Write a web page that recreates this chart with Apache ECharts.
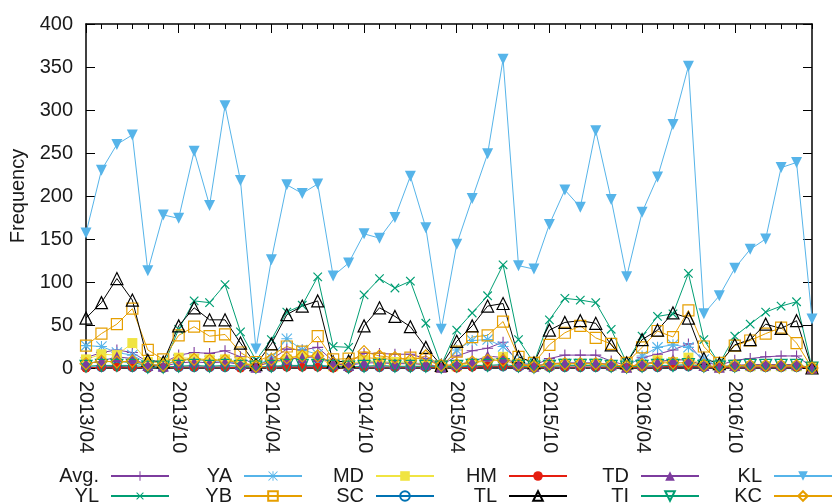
<!DOCTYPE html>
<html>
<head>
<meta charset="utf-8">
<script src="https://cdn.jsdelivr.net/npm/echarts@6/dist/echarts.min.js"></script>
<style>
html,body{margin:0;padding:0;background:#fff;}
#chart{width:835px;height:504px;}
</style>
</head>
<body>
<div id="chart"></div>
<script>
var months = ["2013/04","2013/05","2013/06","2013/07","2013/08","2013/09","2013/10","2013/11","2013/12","2014/01","2014/02","2014/03",
"2014/04","2014/05","2014/06","2014/07","2014/08","2014/09","2014/10","2014/11","2014/12","2015/01","2015/02","2015/03",
"2015/04","2015/05","2015/06","2015/07","2015/08","2015/09","2015/10","2015/11","2015/12","2016/01","2016/02","2016/03",
"2016/04","2016/05","2016/06","2016/07","2016/08","2016/09","2016/10","2016/11","2016/12","2017/01","2017/02","2017/03"];

var seriesNames = ["Avg.","YL","YA","YB","MD","SC","HM","TL","TD","TI","KL","KC"];

var avg = [12,18,21,18,7,6,15,18,17,20,13,3, 10,22,21,24,8,7,17,17,16,16,11,3, 14,20,23,30,5,3,11,15,15,15,8,3, 12,16,21,28,7,3,9,11,13,14,14,1];
var yl  = [6,7,8,6,3,2,45,78,76,97,42,9, 33,65,73,106,25,24,85,104,93,101,52,3, 44,64,84,120,33,6,56,81,79,76,45,6, 37,60,63,110,33,5,37,51,65,72,77,0];
var ya  = [26,25,18,15,5,3,10,10,8,8,5,2, 12,34,21,16,4,3,8,7,6,6,5,1, 21,32,33,25,8,3,4,5,5,5,3,1, 14,24,27,24,10,2,3,3,3,3,3,0];
var yb  = [26,40,51,69,21,10,38,48,37,39,18,7, 15,25,19,37,10,11,12,11,10,12,10,2, 19,36,38,54,13,6,27,41,49,35,28,6, 24,43,36,67,25,6,26,32,40,47,29,0];
var md  = [10,16,15,29,7,6,12,11,10,10,7,3, 5,10,14,13,2,4,9,7,7,7,3,1, 2,6,8,13,5,2,3,5,5,5,3,1, 3,9,7,12,3,1,2,2,2,2,2,0];
var sc  = [1,1,2,1,0,0,1,1,1,1,1,0, 1,2,2,2,1,0,1,1,1,1,1,0, 1,2,2,2,1,0,1,1,1,1,1,0, 1,1,2,2,1,0,1,1,1,1,1,0];
var hm  = [0,1,1,1,0,0,1,1,1,1,0,0, 1,1,1,1,0,0,1,1,1,1,1,0, 0,1,2,2,1,0,1,1,1,1,1,0, 1,1,2,2,1,0,1,1,1,1,1,0];
var tl  = [58,76,104,79,9,7,49,70,56,56,29,4, 28,62,72,78,7,8,49,70,60,48,24,3, 31,49,72,75,13,6,44,53,55,52,27,6, 33,44,64,58,11,5,27,33,51,46,55,0];
var td  = [5,8,13,11,3,2,6,7,6,7,4,1, 8,10,12,13,5,3,6,6,5,5,4,1, 4,7,14,12,4,2,5,6,6,6,4,1, 5,7,10,9,3,1,3,4,4,4,4,0];
var ti  = [2,3,3,3,1,1,2,3,2,3,2,1, 2,3,3,3,2,1,2,3,2,2,2,1, 2,3,3,4,2,1,2,3,3,3,2,1, 2,3,3,4,2,1,2,3,3,3,3,0];
var kl  = [157,230,260,271,113,178,174,252,189,305,218,22, 126,213,203,214,107,122,156,151,175,223,163,45, 144,197,249,359,119,115,167,207,187,276,196,106, 181,222,283,351,63,84,116,138,150,233,239,57];
var kc  = [5,8,7,8,4,3,9,10,9,9,6,2, 10,12,14,14,6,5,19,14,12,9,14,3, 4,7,9,9,4,2,5,5,5,5,4,2, 4,6,6,6,3,1,3,3,3,3,3,0];

var yTicks = [0,50,100,150,200,250,300,350,400];

var seriesData = [avg, yl, ya, yb, md, sc, hm, tl, td, ti, kl, kc];

var C = {purple:'#7d3c9e', green:'#009e73', sky:'#56b4e9', orange:'#e69f00', yellow:'#f0e442', blue:'#0072b2', red:'#e51e10', black:'#000000'};

var PLUS = 'path://M45,0H55V45H100V55H55V100H45V55H0V45H45Z';
var STAR = 'path://M45,0H55V45H100V55H55V100H45V55H0V45H45Z M7,0L100,93L93,100L0,7Z M93,0L100,7L7,100L0,93Z';

var styles = [
  {c:C.purple, sym:PLUS, size:11, fill:true},
  {c:C.green,  sym:PLUS, size:12, fill:true, rot:45},
  {c:C.sky,    sym:STAR, size:11, fill:true},
  {c:C.orange, sym:'rect', size:11, fill:false},
  {c:C.yellow, sym:'rect', size:10, fill:true},
  {c:C.blue,   sym:'circle', size:9, fill:false},
  {c:C.red,    sym:'circle', size:9, fill:true},
  {c:C.black,  sym:'triangle', size:12, fill:false},
  {c:C.purple, sym:'triangle', size:11, fill:true},
  {c:C.green,  sym:'triangle', size:12, fill:false, rot:180},
  {c:C.sky,    sym:'triangle', size:11, fill:true, rot:180},
  {c:C.orange, sym:'diamond', size:12, fill:false}
];

var series = seriesNames.map(function(name, i){
  var s = styles[i];
  return {
    name: name,
    type: 'line',
    data: seriesData[i],
    xAxisIndex: 0,
    yAxisIndex: 0,
    symbol: s.sym,
    symbolSize: s.size,
    symbolRotate: s.rot || 0,
    showAllSymbol: true,
    showSymbol: true,
    lineStyle: {color: s.c, width: 1},
    itemStyle: s.fill ? {color: s.c, borderWidth: 0} : {color: 'rgba(255,255,255,0)', borderColor: s.c, borderWidth: 1.2},
    emphasis: {disabled: true},
    animation: false
  };
});

var font = 'Liberation Sans';
var colLefts = [112, 245, 377, 510, 642, 775];
var legends = [];
for (var k = 0; k < 6; k++) {
  legends.push({
    orient: 'vertical',
    align: 'right',
    right: 835 - (colLefts[k] + 58),
    top: 466,
    height: 60,
    padding: 0,
    itemGap: 0,
    itemWidth: 58,
    itemHeight: 12,
    data: [seriesNames[2*k], seriesNames[2*k+1]],
    formatter: function(n){ return '{t|' + n + '}'; },
    textStyle: {
      fontFamily: font, fontSize: 20, color: '#1a1a1a',
      rich: {t: {fontFamily: font, fontSize: 20, color: '#1a1a1a', width: 48, align: 'right', padding: [0, 7, 0, 0], lineHeight: 20}}
    },
    selectedMode: false
  });
}

function xAx(pos, major, labels) {
  return {
    type: 'category',
    data: months,
    position: pos,
    boundaryGap: false,
    gridIndex: 0,
    axisLine: {show: major, onZero: false, lineStyle: {color: '#000', width: 1.5}},
    axisTick: {show: true, inside: true, interval: major ? 5 : 0, length: major ? 9 : 5, lineStyle: {color: '#000', width: 1}},
    axisLabel: labels ? {show: true, rotate: -90, interval: 5, margin: 13, fontFamily: font, fontSize: 20, color: '#1a1a1a'} : {show: false},
    splitLine: {show: false}
  };
}

var option = {
  backgroundColor: '#ffffff',
  animation: false,
  grid: {left: 86, right: 23, top: 24, bottom: 136, containLabel: false},
  legend: legends,
  xAxis: [xAx('bottom', true, true), xAx('bottom', false, false), xAx('top', true, false), xAx('top', false, false)],
  yAxis: [
    {type: 'value', position: 'left', min: yTicks[0], max: yTicks[yTicks.length-1], interval: 50,
     name: 'Frequency', nameLocation: 'middle', nameGap: 56, nameRotate: 90,
     nameTextStyle: {fontFamily: font, fontSize: 20, color: '#1a1a1a'},
     axisLine: {show: true, onZero: false, lineStyle: {color: '#000', width: 1.5}},
     axisTick: {show: true, inside: true, length: 9, lineStyle: {color: '#000'}},
     axisLabel: {margin: 13, fontFamily: font, fontSize: 20, color: '#1a1a1a'},
     splitLine: {show: false}},
    {type: 'value', position: 'right', min: yTicks[0], max: yTicks[yTicks.length-1], interval: 50,
     axisLine: {show: true, onZero: false, lineStyle: {color: '#000', width: 1.5}},
     axisTick: {show: true, inside: true, length: 9, lineStyle: {color: '#000'}},
     axisLabel: {show: false},
     splitLine: {show: false}}
  ],
  series: series
};

var chart = echarts.init(document.getElementById('chart'), null, {renderer: 'canvas'});
chart.setOption(option);
</script>
</body>
</html>
